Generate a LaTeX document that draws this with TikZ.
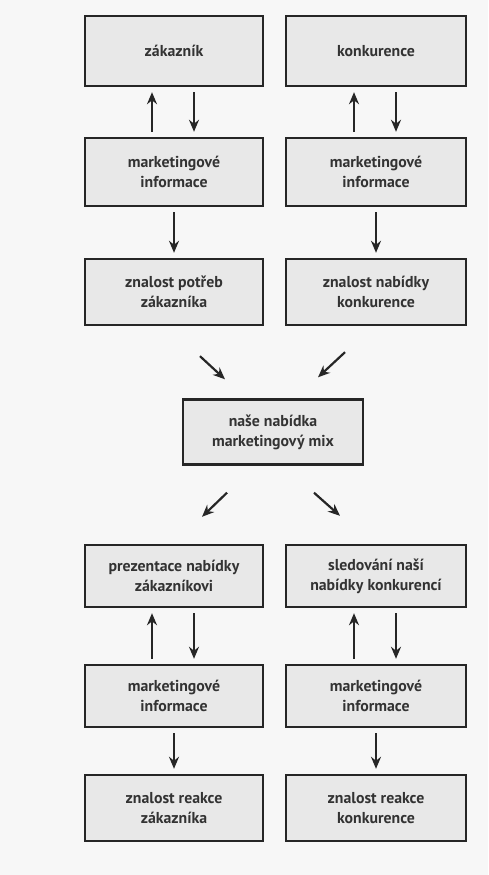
\documentclass[tikz,border=0pt]{standalone}
\usepackage{fontspec}
\setmainfont{PT Sans}
\usetikzlibrary{arrows.meta}

\begin{document}
\begin{tikzpicture}
  [x=1pt,y=-1pt,
   every node/.style={draw=black!85,line width=2.4pt,fill=black!9,
     align=center,inner sep=2pt,font=\fontsize{15.8}{20}\selectfont\bfseries\color{black!80}},
   lbox/.style={minimum width=178pt},
   rbox/.style={minimum width=180pt},
   arr/.style={-{Stealth[length=12pt,width=10pt]},line width=2.2pt,draw=black!85,
     shorten <=5pt,shorten >=5pt}]
  \fill[black!3] (0,0) rectangle (488,875);
  \useasboundingbox (0,0) rectangle (488,875);

  \node[lbox,minimum height=70pt] (zak) at (174,51) {zákazník};
  \node[rbox,minimum height=70pt] (kon) at (376,51) {konkurence};
  \node[lbox,minimum height=68pt] (miA) at (174,172) {marketingové\\informace};
  \node[rbox,minimum height=68pt] (miB) at (376,172) {marketingové\\informace};
  \node[lbox,minimum height=66pt] (pot) at (174,292) {znalost potřeb\\zákazníka};
  \node[rbox,minimum height=66pt] (nab) at (376,292) {znalost nabídky\\konkurence};
  \node[minimum width=180pt,minimum height=65pt] (mix) at (273,432) {naše nabídka\\marketingový mix};
  \node[lbox,minimum height=62pt] (prez) at (174,576) {prezentace nabídky\\zákazníkovi};
  \node[rbox,minimum height=62pt] (sled) at (376,576) {sledování naší\\nabídky konkurencí};
  \node[lbox,minimum height=62pt] (miC) at (174,696) {marketingové\\informace};
  \node[rbox,minimum height=62pt] (miD) at (376,696) {marketingové\\informace};
  \node[lbox,minimum height=66pt] (rzak) at (174,808) {znalost reakce\\zákazníka};
  \node[rbox,minimum height=66pt] (rkon) at (376,808) {znalost reakce\\konkurence};

  % info flows up and down
  \foreach \lo/\hi in {miA/zak,miB/kon,miC/prez,miD/sled} {
    \draw[arr] ([xshift=-22pt]\lo.north) -- ([xshift=-22pt]\hi.south);
    \draw[arr] ([xshift=20pt]\hi.south) -- ([xshift=20pt]\lo.north);
  }
  \foreach \from/\to in {miA/pot,miB/nab,miC/rzak,miD/rkon}
    \draw[arr] (\from) -- (\to);

  % into and out of the mix
  \draw[arr,shorten <=0pt,shorten >=0pt] ([xshift=26pt,yshift=-30pt]pot.south) -- ([xshift=-48pt,yshift=19pt]mix.north);
  \draw[arr,shorten <=0pt,shorten >=0pt] ([xshift=-31pt,yshift=-26pt]nab.south) -- ([xshift=45pt,yshift=21pt]mix.north);
  \draw[arr,shorten <=0pt,shorten >=0pt] ([xshift=-46pt,yshift=-27pt]mix.south) -- ([xshift=28pt,yshift=27pt]prez.north);
  \draw[arr,shorten <=0pt,shorten >=0pt] ([xshift=41pt,yshift=-27pt]mix.south) -- ([xshift=-36pt,yshift=28pt]sled.north);
\end{tikzpicture}
\end{document}
